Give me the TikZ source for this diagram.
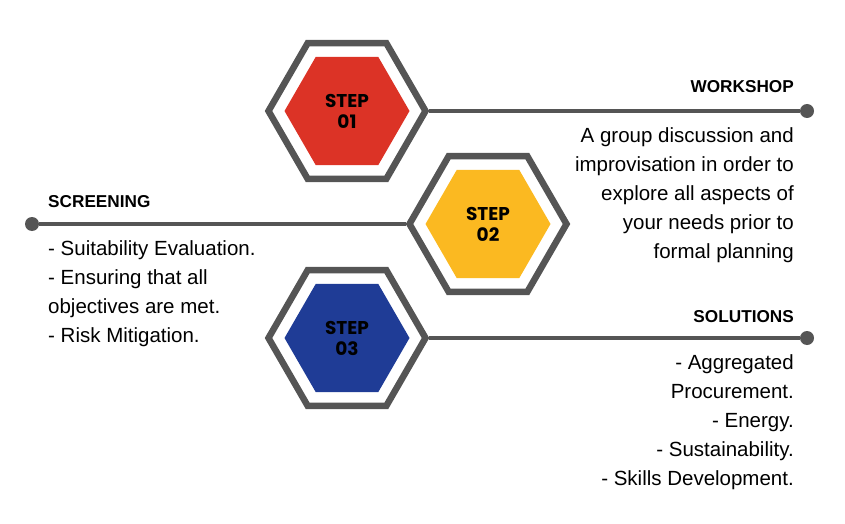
\documentclass[tikz,border=0pt]{standalone}
\usepackage{fontspec}
\setmainfont{Liberation Sans}
\newfontfamily\stepfont{Poppins}
\usepackage{tikz}
\usetikzlibrary{positioning,shapes.geometric}
\definecolor{hexgray}{HTML}{555555}
\definecolor{stepred}{HTML}{DC3326}
\definecolor{stepyellow}{HTML}{FBB921}
\definecolor{stepblue}{HTML}{1F3C96}
\tikzset{
  hexframe/.style={regular polygon,regular polygon sides=6,draw=hexgray,line width=6.5pt,minimum size=157pt,inner sep=0pt},
  hexcore/.style={regular polygon,regular polygon sides=6,minimum size=125pt,inner sep=0pt,align=center,font=\stepfont\bfseries\fontsize{18.5}{21}\selectfont},
  enddot/.style={circle,fill=hexgray,minimum size=14pt,inner sep=0pt},
  link/.style={hexgray,line width=4.5pt},
  head/.style={inner sep=0pt,font=\bfseries\fontsize{17.2}{20}\selectfont},
  body/.style={inner sep=0pt,font=\fontsize{20.5}{29}\selectfont}
}
\begin{document}
\begin{tikzpicture}[x=1pt,y=-1pt]
\useasboundingbox (0,0) rectangle (845,524);
\node[hexframe] (frame1) at (347,111) {};
\node[hexcore,fill=stepred] (step1) at (frame1) {STEP\\01};
\node[hexframe] (frame2) at (488,224) {};
\node[hexcore,fill=stepyellow] (step2) at (frame2) {STEP\\02};
\node[hexframe] (frame3) at (347,338) {};
\node[hexcore,fill=stepblue] (step3) at (frame3) {STEP\\03};
\node[enddot] (dot1) at (807,111) {};
\node[enddot] (dot2) at (32,224) {};
\node[enddot] (dot3) at (807,338) {};
\draw[link] (frame1) -- (dot1);
\draw[link] (dot2) -- (frame2);
\draw[link] (frame3) -- (dot3);
\node[head,anchor=base east] (workshop) at ([shift={(-13,-18)}]dot1.center) {WORKSHOP};
\node[body,anchor=north east,align=right] (workshoptext) at ([shift={(-13,16)}]dot1.center)
  {A group discussion and\\improvisation in order to\\explore all aspects of\\your needs prior to\\formal planning};
\node[head,anchor=base west] (screening) at ([shift={(16,-17)}]dot2.center) {SCREENING};
\node[body,anchor=north west,align=left] (screeningtext) at ([shift={(16,16)}]dot2.center)
  {- Suitability Evaluation.\\- Ensuring that all\\objectives are met.\\- Risk Mitigation.};
\node[head,anchor=base east] (solutions) at ([shift={(-13,-16)}]dot3.center) {SOLUTIONS};
\node[body,anchor=north east,align=right] (solutionstext) at ([shift={(-13,16)}]dot3.center)
  {- Aggregated\\Procurement.\\- Energy.\\- Sustainability.\\- Skills Development.};
\end{tikzpicture}
\end{document}
